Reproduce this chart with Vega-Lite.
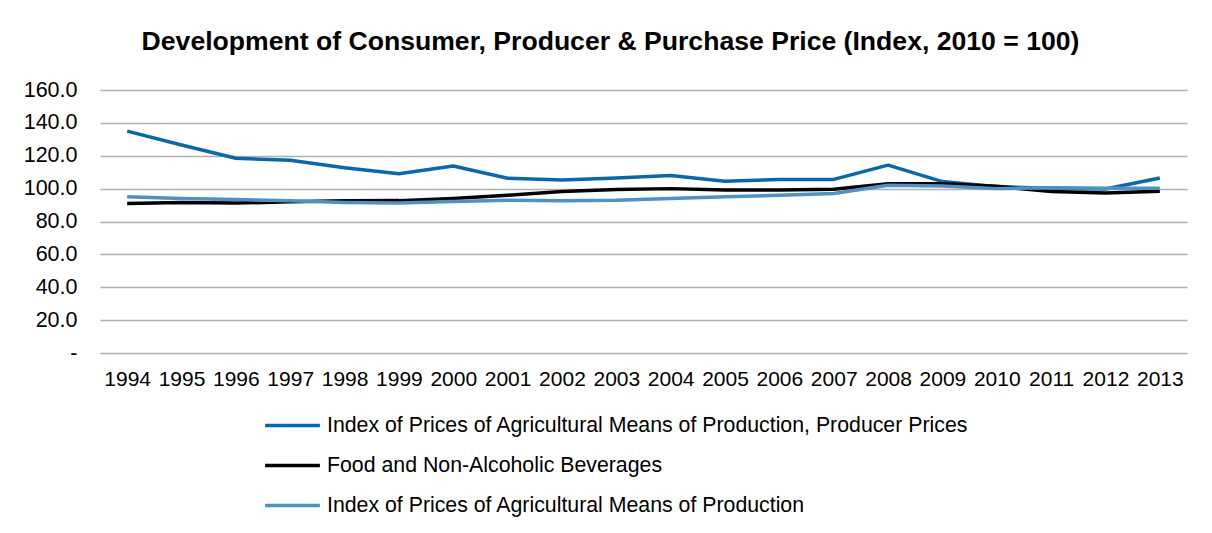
{
  "$schema": "https://vega.github.io/schema/vega-lite/v6.json",
  "width": 1087,
  "height": 263,
  "autosize": {"type": "none"},
  "padding": {"left": 100, "top": 90, "right": 25, "bottom": 180},
  "background": "white",
  "title": {
    "text": "Development of Consumer, Producer & Purchase Price (Index, 2010 = 100)",
    "font": "Liberation Sans",
    "fontSize": 26.6,
    "fontWeight": "bold",
    "color": "#000000",
    "offset": 23,
    "dx": -33
  },
  "data": {
    "values": [
      {"year": "1994", "series": "Index of Prices of Agricultural Means of Production, Producer Prices", "value": 135.0},
      {"year": "1995", "series": "Index of Prices of Agricultural Means of Production, Producer Prices", "value": 126.5},
      {"year": "1996", "series": "Index of Prices of Agricultural Means of Production, Producer Prices", "value": 118.5},
      {"year": "1997", "series": "Index of Prices of Agricultural Means of Production, Producer Prices", "value": 117.2},
      {"year": "1998", "series": "Index of Prices of Agricultural Means of Production, Producer Prices", "value": 112.7},
      {"year": "1999", "series": "Index of Prices of Agricultural Means of Production, Producer Prices", "value": 109.0},
      {"year": "2000", "series": "Index of Prices of Agricultural Means of Production, Producer Prices", "value": 113.8},
      {"year": "2001", "series": "Index of Prices of Agricultural Means of Production, Producer Prices", "value": 106.3},
      {"year": "2002", "series": "Index of Prices of Agricultural Means of Production, Producer Prices", "value": 105.2},
      {"year": "2003", "series": "Index of Prices of Agricultural Means of Production, Producer Prices", "value": 106.5},
      {"year": "2004", "series": "Index of Prices of Agricultural Means of Production, Producer Prices", "value": 108.0},
      {"year": "2005", "series": "Index of Prices of Agricultural Means of Production, Producer Prices", "value": 104.5},
      {"year": "2006", "series": "Index of Prices of Agricultural Means of Production, Producer Prices", "value": 105.5},
      {"year": "2007", "series": "Index of Prices of Agricultural Means of Production, Producer Prices", "value": 105.6},
      {"year": "2008", "series": "Index of Prices of Agricultural Means of Production, Producer Prices", "value": 114.3},
      {"year": "2009", "series": "Index of Prices of Agricultural Means of Production, Producer Prices", "value": 104.3},
      {"year": "2010", "series": "Index of Prices of Agricultural Means of Production, Producer Prices", "value": 101.2},
      {"year": "2011", "series": "Index of Prices of Agricultural Means of Production, Producer Prices", "value": 100.3},
      {"year": "2012", "series": "Index of Prices of Agricultural Means of Production, Producer Prices", "value": 99.8},
      {"year": "2013", "series": "Index of Prices of Agricultural Means of Production, Producer Prices", "value": 106.5},
      {"year": "1994", "series": "Food and Non-Alcoholic Beverages", "value": 91.0},
      {"year": "1995", "series": "Food and Non-Alcoholic Beverages", "value": 91.6},
      {"year": "1996", "series": "Food and Non-Alcoholic Beverages", "value": 91.2},
      {"year": "1997", "series": "Food and Non-Alcoholic Beverages", "value": 92.0},
      {"year": "1998", "series": "Food and Non-Alcoholic Beverages", "value": 92.6},
      {"year": "1999", "series": "Food and Non-Alcoholic Beverages", "value": 92.7},
      {"year": "2000", "series": "Food and Non-Alcoholic Beverages", "value": 94.0},
      {"year": "2001", "series": "Food and Non-Alcoholic Beverages", "value": 96.0},
      {"year": "2002", "series": "Food and Non-Alcoholic Beverages", "value": 98.2},
      {"year": "2003", "series": "Food and Non-Alcoholic Beverages", "value": 99.5},
      {"year": "2004", "series": "Food and Non-Alcoholic Beverages", "value": 100.0},
      {"year": "2005", "series": "Food and Non-Alcoholic Beverages", "value": 99.2},
      {"year": "2006", "series": "Food and Non-Alcoholic Beverages", "value": 99.1},
      {"year": "2007", "series": "Food and Non-Alcoholic Beverages", "value": 99.6},
      {"year": "2008", "series": "Food and Non-Alcoholic Beverages", "value": 103.0},
      {"year": "2009", "series": "Food and Non-Alcoholic Beverages", "value": 103.0},
      {"year": "2010", "series": "Food and Non-Alcoholic Beverages", "value": 101.4},
      {"year": "2011", "series": "Food and Non-Alcoholic Beverages", "value": 98.2},
      {"year": "2012", "series": "Food and Non-Alcoholic Beverages", "value": 97.4},
      {"year": "2013", "series": "Food and Non-Alcoholic Beverages", "value": 98.4},
      {"year": "1994", "series": "Index of Prices of Agricultural Means of Production", "value": 95.0},
      {"year": "1995", "series": "Index of Prices of Agricultural Means of Production", "value": 94.0},
      {"year": "1996", "series": "Index of Prices of Agricultural Means of Production", "value": 93.4},
      {"year": "1997", "series": "Index of Prices of Agricultural Means of Production", "value": 92.6},
      {"year": "1998", "series": "Index of Prices of Agricultural Means of Production", "value": 91.6},
      {"year": "1999", "series": "Index of Prices of Agricultural Means of Production", "value": 91.2},
      {"year": "2000", "series": "Index of Prices of Agricultural Means of Production", "value": 92.2},
      {"year": "2001", "series": "Index of Prices of Agricultural Means of Production", "value": 93.0},
      {"year": "2002", "series": "Index of Prices of Agricultural Means of Production", "value": 92.6},
      {"year": "2003", "series": "Index of Prices of Agricultural Means of Production", "value": 92.9},
      {"year": "2004", "series": "Index of Prices of Agricultural Means of Production", "value": 94.0},
      {"year": "2005", "series": "Index of Prices of Agricultural Means of Production", "value": 95.0},
      {"year": "2006", "series": "Index of Prices of Agricultural Means of Production", "value": 96.0},
      {"year": "2007", "series": "Index of Prices of Agricultural Means of Production", "value": 97.0},
      {"year": "2008", "series": "Index of Prices of Agricultural Means of Production", "value": 102.0},
      {"year": "2009", "series": "Index of Prices of Agricultural Means of Production", "value": 101.6},
      {"year": "2010", "series": "Index of Prices of Agricultural Means of Production", "value": 100.0},
      {"year": "2011", "series": "Index of Prices of Agricultural Means of Production", "value": 100.6},
      {"year": "2012", "series": "Index of Prices of Agricultural Means of Production", "value": 100.2},
      {"year": "2013", "series": "Index of Prices of Agricultural Means of Production", "value": 100.2}
    ]
  },
  "mark": {"type": "line", "strokeWidth": 3.5, "strokeJoin": "round"},
  "encoding": {
    "x": {
      "field": "year",
      "type": "ordinal",
      "scale": {"type": "point", "padding": 0.5},
      "axis": {
        "title": null,
        "labelAngle": 0,
        "ticks": false,
        "domain": false,
        "grid": false,
        "labelFont": "Liberation Sans",
        "labelFontSize": 21,
        "labelColor": "#000000",
        "labelPadding": 15
      }
    },
    "y": {
      "field": "value",
      "type": "quantitative",
      "scale": {"domain": [0, 160], "nice": false},
      "axis": {
        "title": null,
        "values": [0, 20, 40, 60, 80, 100, 120, 140, 160],
        "labelExpr": "datum.value == 0 ? '-' : format(datum.value, '.1f')",
        "ticks": false,
        "domain": false,
        "grid": true,
        "gridColor": "#b0b0b0",
        "gridWidth": 1.5,
        "labelFont": "Liberation Sans",
        "labelFontSize": 21.5,
        "labelColor": "#000000",
        "labelPadding": 23
      }
    },
    "color": {
      "field": "series",
      "type": "nominal",
      "sort": [
        "Index of Prices of Agricultural Means of Production, Producer Prices",
        "Food and Non-Alcoholic Beverages",
        "Index of Prices of Agricultural Means of Production"
      ],
      "scale": {
        "domain": [
          "Index of Prices of Agricultural Means of Production, Producer Prices",
          "Food and Non-Alcoholic Beverages",
          "Index of Prices of Agricultural Means of Production"
        ],
        "range": ["#0a67a9", "#000000", "#4e91c2"]
      },
      "legend": {
        "title": null,
        "orient": "none",
        "legendX": 163,
        "legendY": 306,
        "direction": "vertical",
        "symbolType": "stroke",
        "symbolSize": 3000,
        "symbolStrokeWidth": 3.5,
        "labelFont": "Liberation Sans",
        "labelFontSize": 21.3,
        "labelColor": "#000000",
        "labelOffset": 5,
        "labelLimit": 900,
        "rowPadding": -1
      }
    }
  },
  "config": {
    "view": {"stroke": null}
  }
}
